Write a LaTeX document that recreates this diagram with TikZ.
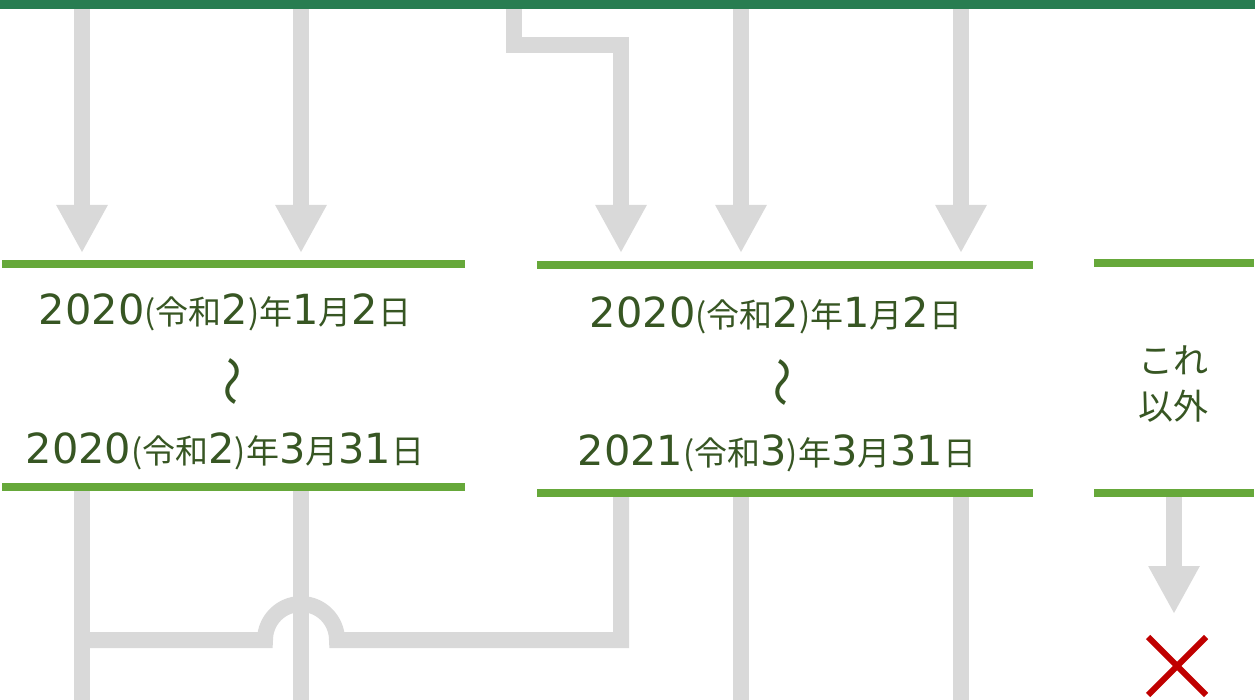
\documentclass[tikz,border=0pt]{standalone}
\usepackage{fontspec}
\newfontfamily\jp{Noto Sans CJK JP}
\newfontfamily\dv{DejaVu Sans}
\usetikzlibrary{arrows.meta}
\definecolor{topbar}{HTML}{287D51}
\definecolor{gline}{HTML}{66A83A}
\definecolor{gtxt}{HTML}{375623}
\definecolor{flow}{HTML}{D9D9D9}
\definecolor{xred}{HTML}{C00000}
\newcommand\dg[1]{{\dv\fontsize{41.5}{41.5}\selectfont #1}}
\newcommand\kj[1]{{\jp\fontsize{33}{33}\selectfont #1}}
\begin{document}
\begin{tikzpicture}[x=1pt,y=-1pt,
 flowline/.style={draw=flow,line width=16pt},
 flowarrow/.style={flowline,-{Triangle[width=48pt,length=48pt]}},
 gbar/.style={draw=gline,line width=8pt},
 datetxt/.style={text=gtxt,anchor=base,inner sep=0pt,font=\jp},
 wave/.style={text=gtxt,anchor=center,inner sep=0pt,font=\jp\fontsize{50}{50}\selectfont,rotate=-90},
 cross/.style={draw=xred,line width=6pt},
]
\useasboundingbox (0,0) rectangle (1255,700);
% coordinates
\coordinate (t1) at (82,4);   \coordinate (a1) at (82,253);
\coordinate (t2) at (301,4);  \coordinate (a2) at (301,253);
\coordinate (t3) at (514,4);  \coordinate (b3a) at (514,45); \coordinate (b3b) at (621,45); \coordinate (a3) at (621,253);
\coordinate (t4) at (741,4);  \coordinate (a4) at (741,253);
\coordinate (t5) at (961,4);  \coordinate (a5) at (961,253);
\coordinate (l1) at (82,489);  \coordinate (e1) at (82,700);
\coordinate (l2) at (301,489); \coordinate (e2) at (301,700);
\coordinate (j1) at (82,640);  \coordinate (j2) at (265,640); \coordinate (j3) at (621,640);
\coordinate (m1) at (621,494); 
\coordinate (m2) at (741,494); \coordinate (e4) at (741,700);
\coordinate (m3) at (961,494); \coordinate (e5) at (961,700);
\coordinate (r1) at (1174,494); \coordinate (r2) at (1174,614);
% flows
\draw[flowarrow] (t1) -- (a1);
\draw[flowarrow] (t2) -- (a2);
\draw[flowarrow] (t3) -- (b3a) -- (b3b) -- (a3);
\draw[flowarrow] (t4) -- (a4);
\draw[flowarrow] (t5) -- (a5);
\draw[flowline] (l1) -- (e1);
\draw[flowline] (l2) -- (e2);
\draw[flowline] (j1) -- (j2) arc[start angle=180,end angle=0,radius=36pt] -- (j3) -- (m1);
\draw[flowline] (m2) -- (e4);
\draw[flowline] (m3) -- (e5);
\draw[flowarrow] (r1) -- (r2);
% top bar
\fill[topbar] (0,0) rectangle (1255,9);
% green bars
\draw[gbar] (2,264) -- (465,264);
\draw[gbar] (2,487) -- (465,487);
\draw[gbar] (537,265.5) -- (1033,265.5);
\draw[gbar] (537,492.5) -- (1033,492.5);
\draw[gbar] (1094,263.5) -- (1254,263.5);
\draw[gbar] (1094,492.5) -- (1254,492.5);
% texts
\node[datetxt] (lt) at (225,325) {\dg{2020}\kj{(令和}\dg{2}\kj{)年}\dg{1}\kj{月}\dg{2}\kj{日}};
\node[wave] (lw) at (226,381) {〜};
\node[datetxt] (lb) at (225,463) {\dg{2020}\kj{(令和}\dg{2}\kj{)年}\dg{3}\kj{月}\dg{31}\kj{日}};
\node[datetxt] (mt) at (776,327) {\dg{2020}\kj{(令和}\dg{2}\kj{)年}\dg{1}\kj{月}\dg{2}\kj{日}};
\node[wave] (mw) at (776,383) {〜};
\node[datetxt] (mb) at (777,465) {\dg{2021}\kj{(令和}\dg{3}\kj{)年}\dg{3}\kj{月}\dg{31}\kj{日}};
\node[text=gtxt,anchor=center,align=center,inner sep=0pt,font=\jp\fontsize{35}{46}\selectfont] (rt) at (1173,384) {これ\\以外};
% cross
\coordinate (x1) at (1148,637); \coordinate (x2) at (1206,695);
\coordinate (x3) at (1148,695); \coordinate (x4) at (1206,637);
\draw[cross] (x1) -- (x2);
\draw[cross] (x3) -- (x4);
\end{tikzpicture}
\end{document}
